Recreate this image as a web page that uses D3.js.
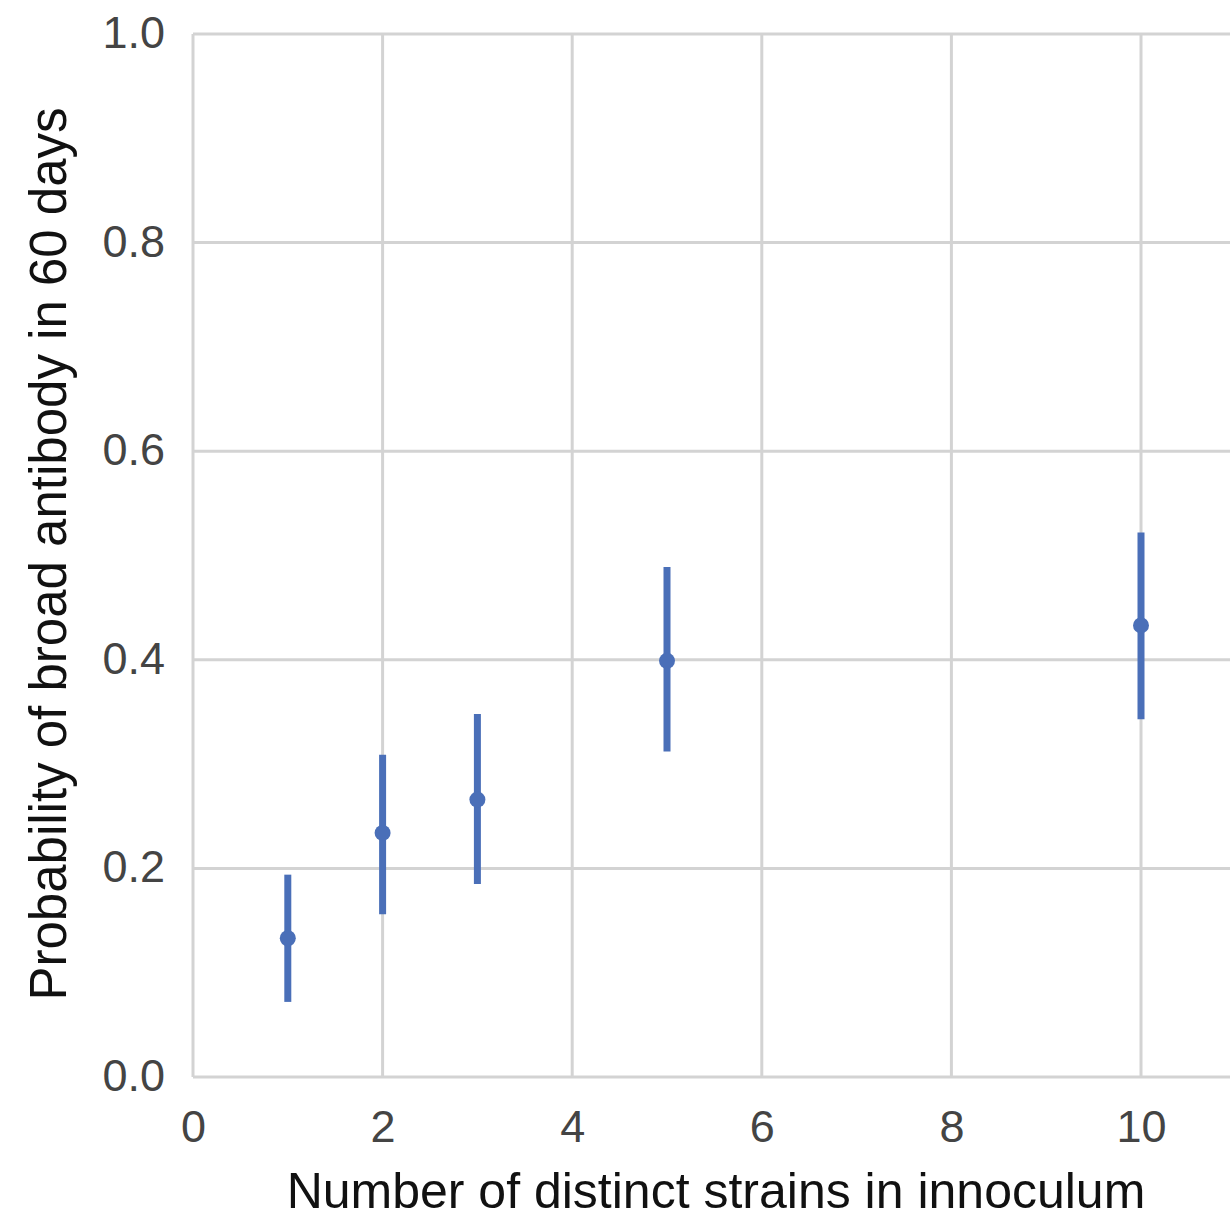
<!DOCTYPE html>
<html>
<head>
<meta charset="utf-8">
<script src="https://cdn.jsdelivr.net/npm/d3@7"></script>
<style>
  html, body { margin: 0; padding: 0; background: #fff; }
  svg { display: block; font-family: "Liberation Sans", Arial, sans-serif; }
</style>
</head>
<body>
<div id="chart"></div>
<script>
// strains in inoculum vs probability, with error bar ends
const strains = [1, 2, 3, 5, 10];
const prob = [0.133, 0.234, 0.266, 0.399, 0.433];
const probLow = [0.072, 0.156, 0.185, 0.312, 0.343];
const probHigh = [0.194, 0.309, 0.348, 0.489, 0.522];
const xTicks = [0, 2, 4, 6, 8, 10, 12];
const yTicks = [0, 0.2, 0.4, 0.6, 0.8, 1.0];

const W = 1230, H = 1219;
const margin = { top: 34, left: 193, bottom: 142 };
const plotW = 94.8 * 12; // goes past the right edge, cropped like the source

const svg = d3.select('#chart').append('svg')
    .attr('width', W)
    .attr('height', H);

let x = d3.scaleLinear().domain([0, 12]).range([margin.left, margin.left + plotW]);
let y = d3.scaleLinear().domain([0, 1]).range([H - margin.bottom, margin.top]);

const gridColor = '#d3d3d3', dotColor = '#4a6fb8';

// grid
let grid = svg.append('g');
grid.selectAll('.vx')
    .data(xTicks)
    .enter().append('line')
    .attr('x1', d => x(d)).attr('x2', d => x(d))
    .attr('y1', y(1)).attr('y2', y(0))
    .attr('stroke', gridColor).attr('stroke-width', 3);
grid.selectAll('.hy')
    .data(yTicks)
    .enter().append('line')
    .attr('x1', x(0)).attr('x2', x(12))
    .attr('y1', d => y(d)).attr('y2', d => y(d))
    .attr('stroke', gridColor).attr('stroke-width', 3);

// axis labels through d3 axes, no lines
let xAxis = d3.axisBottom(x).tickValues(xTicks.slice(0, 6)).tickSize(0).tickPadding(33).tickFormat(d3.format('d'));
let gx = svg.append('g').attr('transform', 'translate(0,' + y(0) + ')').call(xAxis);
let yAxis = d3.axisLeft(y).tickValues(yTicks).tickSize(0).tickPadding(28).tickFormat(d3.format('.1f'));
let gy = svg.append('g').attr('transform', 'translate(' + x(0) + ',0)').call(yAxis);

[gx, gy].forEach(g => {
    g.select('.domain').remove();
    g.selectAll('text')
        .attr('fill', '#444')
        .style('font-size', '45px')
        .style('font-family', '"Liberation Sans", Arial, sans-serif');
});
gy.selectAll('text').attr('dy', '0.3em');

// error bars
let marks = svg.append('g');
marks.selectAll('.err')
    .data(strains)
    .enter().append('line')
    .attr('x1', d => x(d)).attr('x2', d => x(d))
    .attr('y1', (d, i) => y(probLow[i]))
    .attr('y2', (d, i) => y(probHigh[i]))
    .attr('stroke', dotColor)
    .attr('stroke-width', 7);
marks.selectAll('.dot')
    .data(strains)
    .enter().append('circle')
    .attr('cx', d => x(d))
    .attr('cy', (d, i) => y(prob[i]))
    .attr('r', 8)
    .attr('fill', dotColor);

// titles
svg.append('text')
    .attr('x', 716).attr('y', 1208)
    .attr('text-anchor', 'middle')
    .attr('fill', '#111')
    .style('font-size', '50px')
    .text('Number of distinct strains in innoculum');

svg.append('text')
    .attr('transform', 'translate(66,554) rotate(-90)')
    .attr('text-anchor', 'middle')
    .attr('fill', '#111')
    .style('font-size', '51px')
    .text('Probability of broad antibody in 60 days');
</script>
</body>
</html>
